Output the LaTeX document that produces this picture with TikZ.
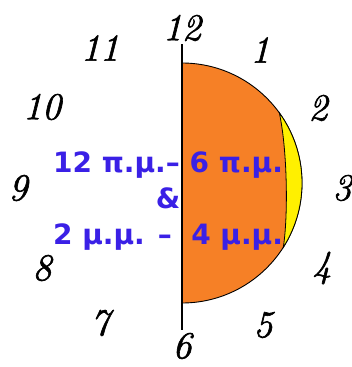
\documentclass[tikz,border=0pt]{standalone}
\usepackage{fontspec}
\usepackage{tikz}
\newfontfamily\labelfont{DejaVu Sans}
\newfontfamily\hourfont{Latin Modern Roman}[ItalicFeatures={FakeBold=1.6}]
\definecolor{halforange}{RGB}{246,128,38}
\definecolor{moonyellow}{RGB}{255,240,0}
\definecolor{textblue}{RGB}{58,32,230}
\usetikzlibrary{positioning, calc}

\begin{document}
\begin{tikzpicture}[x=1pt, y=1pt,
  hour/.style={font=\hourfont\itshape\fontsize{38}{40}\selectfont, inner sep=0pt},
  timebox/.style={font=\labelfont\bfseries\fontsize{28}{36}\selectfont, text=textblue, align=center, inner sep=0pt}
]
\useasboundingbox (0,0) rectangle (351,-367);
% clock face numbers
\node[hour] (h12) at (182,-28) {12};
\node[hour] (h1) at (260,-50) {1};
\node[hour] (h2) at (318,-108) {2};
\node[hour] (h3) at (342,-188) {3};
\node[hour] (h4) at (322,-268) {4};
\node[hour] (h5) at (263,-325) {5};
\node[hour] (h6) at (182,-346) {6};
\node[hour] (h7) at (100,-323) {7};
\node[hour] (h8) at (42,-268) {8};
\node[hour] (h9) at (18,-188) {9};
\node[hour] (h10) at (42,-107) {10};
\node[hour] (h11) at (100,-48) {11};
% half disc and the thin crescent
\coordinate (centre) at (182,-183);
\coordinate (top) at (182,-63);
\coordinate (up) at ($(centre)+(35.8:120pt)$);
\coordinate (low) at ($(centre)+(-32.4:120pt)$);
\draw[fill=halforange, line width=0.9pt] (top) arc[start angle=90, end angle=-90, radius=120pt] -- cycle;
\draw[fill=moonyellow, line width=0.8pt] (up) arc[start angle=35.8, end angle=-32.4, radius=120pt]
  .. controls ($(low)+(5,32)$) and ($(up)+(8,-37)$) .. (up) -- cycle;
\coordinate (linetop) at (182,-44);
\coordinate (linebot) at (182,-330);
\draw[line width=1.2pt] (linetop) -- (linebot);
% times
\node[timebox] (times) at (168,-201) {12 π.μ.–\ 6 π.μ.\\\&\\2 μ.μ. –\ \ 4 μ.μ.};
\end{tikzpicture}
\end{document}
